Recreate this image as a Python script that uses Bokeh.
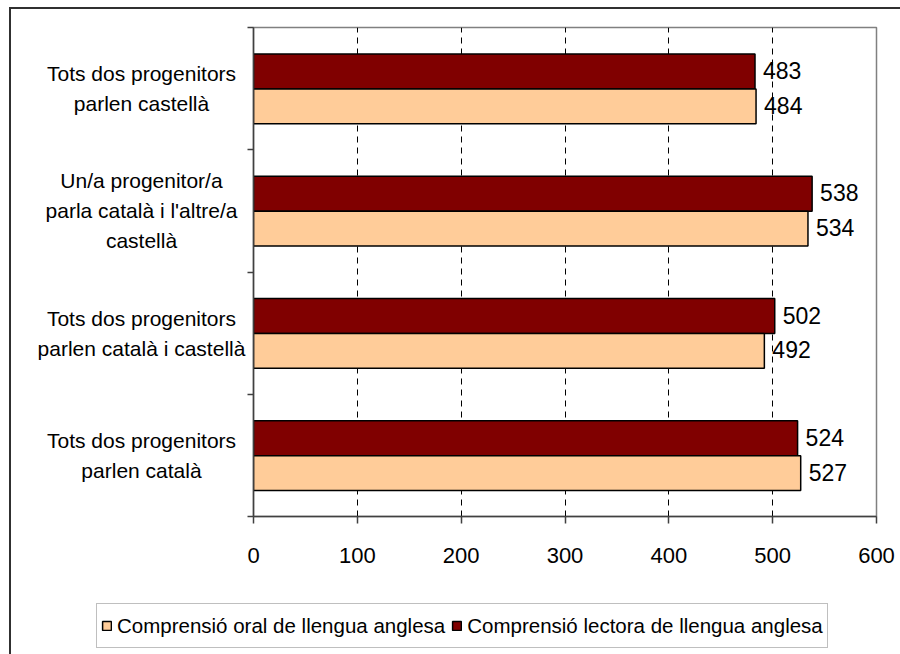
from bokeh.plotting import figure
from bokeh.layouts import row, column
from bokeh.models import (Range1d, FixedTicker, ColumnDataSource, Legend,
                          LegendItem)
from bokeh.transform import dodge
from bokeh.core.properties import value
from bokeh.embed import file_html
from bokeh.resources import INLINE

# ---- data (listed top to bottom as in the chart) ----
categories = [
    "Tots dos progenitors\nparlen castellà",
    "Un/a progenitor/a\nparla català i l'altre/a\ncastellà",
    "Tots dos progenitors\nparlen català i castellà",
    "Tots dos progenitors\nparlen català",
]
oral = [484, 534, 492, 527]       # Comprensió oral de llengua anglesa
lectora = [483, 538, 502, 524]    # Comprensió lectora de llengua anglesa
x_ticks = [0, 100, 200, 300, 400, 500, 600]
series_names = ["Comprensió oral de llengua anglesa",
                "Comprensió lectora de llengua anglesa"]

FONT = "Liberation Sans"
LIGHT = "#FFCC99"
DARK = "#800000"

n = len(categories)
ypos = [n - 0.5 - i for i in range(n)]
src = ColumnDataSource(dict(
    y=ypos, cat=categories, oral=oral, lectora=lectora,
    oral_txt=[str(v) for v in oral], lect_txt=[str(v) for v in lectora],
))

TOP, BOTTOM = 18, 73
yr = Range1d(0, n)

# ---------------- main chart ----------------
p = figure(width=653, height=580, output_backend="svg", toolbar_location=None,
           x_range=Range1d(0, 600), y_range=yr,
           min_border_left=6, min_border_right=24, min_border_top=TOP,
           min_border_bottom=BOTTOM)
p.outline_line_color = "#808080"
p.outline_line_width = 1.5

p.ygrid.grid_line_color = None
p.xgrid.grid_line_color = "#000000"
p.xgrid.grid_line_dash = "6 5"
p.xgrid.grid_line_width = 1

p.xaxis.ticker = FixedTicker(ticks=x_ticks)
p.xaxis.axis_line_color = "#404040"
p.xaxis.axis_line_width = 1.5
p.xaxis.major_tick_line_color = "#404040"
p.xaxis.major_tick_line_width = 1.5
p.xaxis.major_tick_out = 7
p.xaxis.major_tick_in = 0
p.xaxis.minor_tick_line_color = None
p.xaxis.major_label_text_font = FONT
p.xaxis.major_label_text_font_size = "22px"
p.xaxis.major_label_text_color = "#000000"
p.xaxis.major_label_standoff = 24

p.yaxis.ticker = FixedTicker(ticks=[], minor_ticks=list(range(n + 1)))
p.yaxis.major_tick_line_color = None
p.yaxis.major_label_standoff = 0
p.yaxis.minor_tick_out = 6
p.yaxis.minor_tick_in = 0
p.yaxis.minor_tick_line_color = "#404040"
p.yaxis.minor_tick_line_width = 1.5
p.yaxis.axis_line_color = "#404040"
p.yaxis.axis_line_width = 1.5

h = 0.285
d_lect, d_oral = 0.14, -0.145
r_lect = p.hbar(y=dodge("y", d_lect, range=yr), right="lectora", left=0,
                height=h, source=src, fill_color=DARK, line_color="#000000",
                line_width=1.5)
r_oral = p.hbar(y=dodge("y", d_oral, range=yr), right="oral", left=0,
                height=h, source=src, fill_color=LIGHT, line_color="#000000",
                line_width=1.5)

p.text(x="lectora", y=dodge("y", d_lect, range=yr), text="lect_txt",
       source=src, x_offset=8, y_offset=-1, text_baseline="middle",
       text_align="left", text_font=value(FONT), text_font_size="23px",
       text_color="#000000")
p.text(x="oral", y=dodge("y", d_oral, range=yr), text="oral_txt",
       source=src, x_offset=8, y_offset=-1, text_baseline="middle",
       text_align="left", text_font=value(FONT), text_font_size="23px",
       text_color="#000000")

# ---------------- category labels ----------------
lab = figure(width=236, height=580, output_backend="svg", toolbar_location=None,
             x_range=Range1d(0, 236), y_range=yr,
             x_axis_location=None, y_axis_location=None,
             min_border_left=0, min_border_right=0, min_border_top=TOP,
             min_border_bottom=BOTTOM)
lab.outline_line_color = None
lab.grid.visible = False
lab.text(x=130, y="y", text="cat", source=src, text_align="center",
         text_baseline="middle", text_font=value(FONT),
         text_font_size="21px", text_color="#000000", text_line_height=1.3)

# ---------------- legend strip ----------------
# hidden proxy renderers (same styling) so the legend can sit below the chart
leg = figure(width=889, height=65, output_backend="svg", toolbar_location=None,
             x_range=Range1d(0, 1000), y_range=Range1d(0, 4),
             x_axis_location=None, y_axis_location=None, min_border=0)
leg.outline_line_color = None
leg.grid.visible = False
r_o = leg.hbar(y="y", right="oral", left=0, height=h, source=src,
               fill_color=LIGHT, line_color="#000000", line_width=1.5,
               visible=False)
r_l = leg.hbar(y="y", right="lectora", left=0, height=h, source=src,
               fill_color=DARK, line_color="#000000", line_width=1.5,
               visible=False)
legend = Legend(items=[LegendItem(label=series_names[0], renderers=[r_o]),
                       LegendItem(label=series_names[1], renderers=[r_l])],
                orientation="horizontal", location=(85, 6),
                border_line_color="#808080", border_line_width=1.5,
                label_text_font=FONT, label_text_font_size="20.5px",
                label_text_color="#000000", label_height=35,
                glyph_width=11, glyph_height=11, label_standoff=5,
                spacing=6, padding=4, margin=0, inactive_fill_alpha=0,
                click_policy="none")
leg.add_layout(legend, "center")

layout = column(row(lab, p), leg)
layout.styles = {"margin": "7px 0 0 9px",
                 "border-left": "2px solid #303030",
                 "border-top": "2px solid #303030"}

open("out.html", "w").write(file_html(layout, INLINE))
